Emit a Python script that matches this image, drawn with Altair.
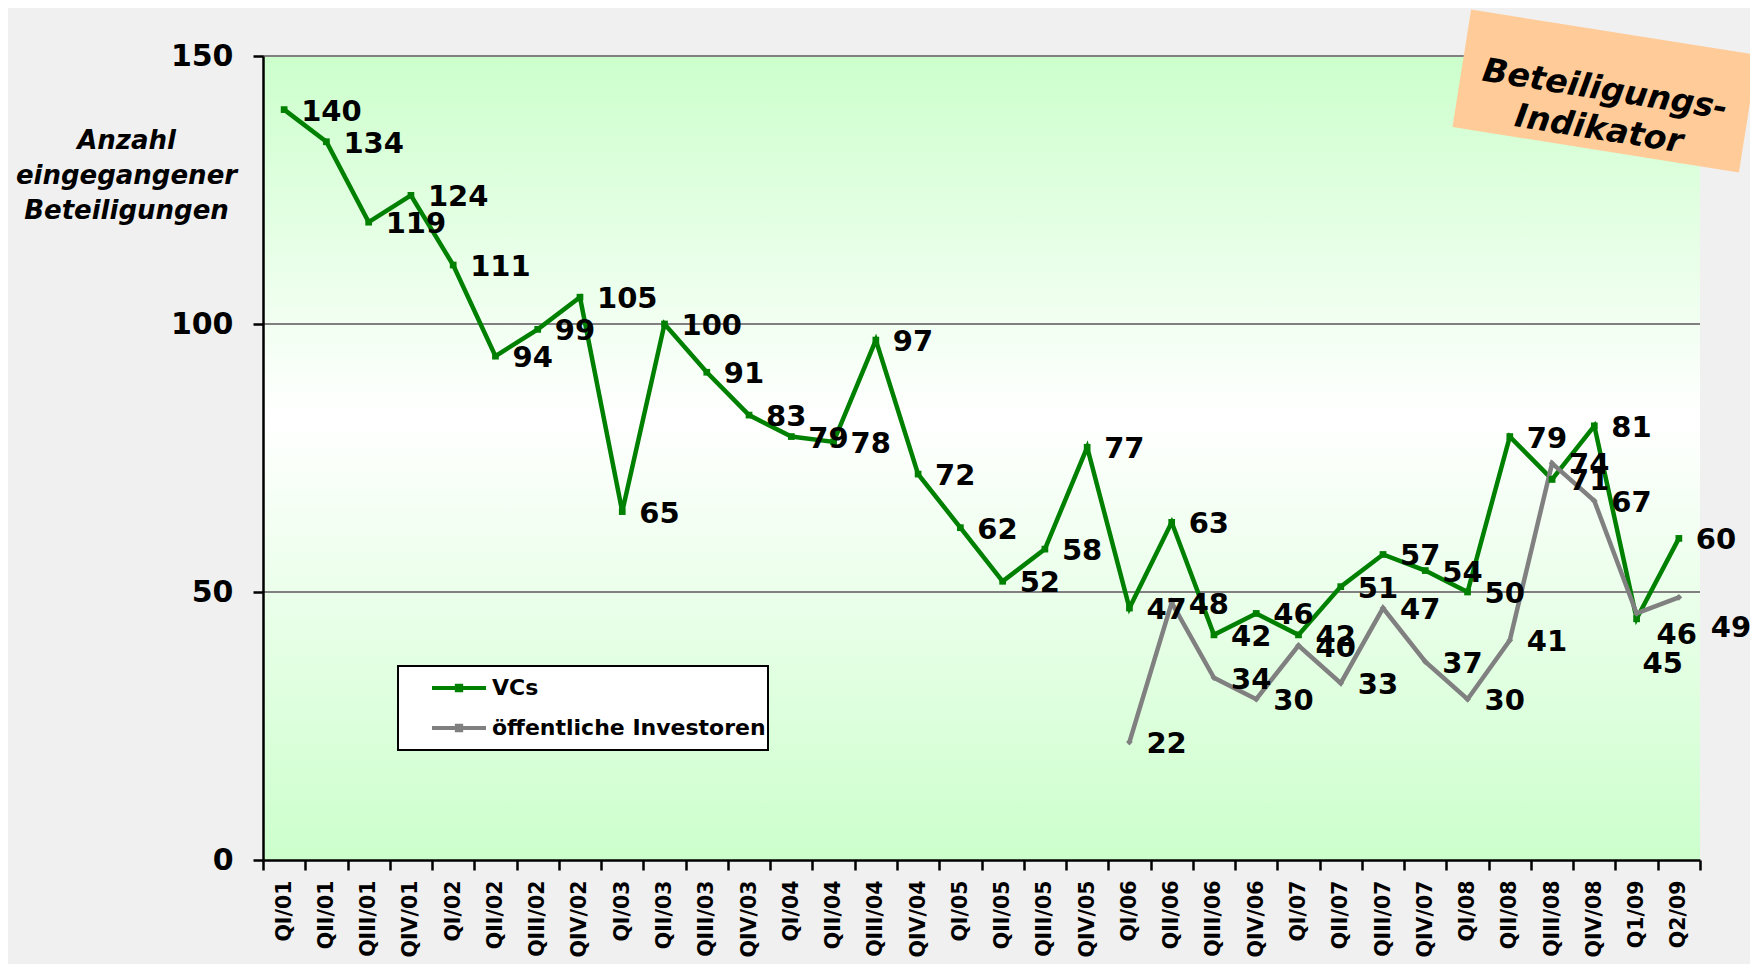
import altair as alt
import pandas as pd

quarters = ["QI/01", "QII/01", "QIII/01", "QIV/01", "QI/02", "QII/02", "QIII/02", "QIV/02",
            "QI/03", "QII/03", "QIII/03", "QIV/03", "QI/04", "QII/04", "QIII/04", "QIV/04",
            "QI/05", "QII/05", "QIII/05", "QIV/05", "QI/06", "QII/06", "QIII/06", "QIV/06",
            "QI/07", "QII/07", "QIII/07", "QIV/07", "QI/08", "QII/08", "QIII/08", "QIV/08",
            "Q1/09", "Q2/09"]
vcs = [140, 134, 119, 124, 111, 94, 99, 105, 65, 100, 91, 83, 79, 78, 97, 72,
       62, 52, 58, 77, 47, 63, 42, 46, 42, 51, 57, 54, 50, 79, 71, 81, 45, 60]
public_quarters = quarters[20:]
public = [22, 48, 34, 30, 40, 33, 47, 37, 30, 41, 74, 67, 46, 49]
series_names = ["VCs", "öffentliche Investoren"]
series_colors = ["#008000", "#808080"]
series_markers = ["square", "diamond"]
y_ticks = [0, 50, 100, 150]
grid_values = [50, 100, 150]
y_title = ["Anzahl", "eingegangener", "Beteiligungen"]
badge_lines = ["Beteiligungs-", "Indikator"]

W, H = 1437, 804
FONT = "DejaVu Sans"

df = pd.concat([
    pd.DataFrame({"quarter": quarters, "value": vcs, "series": series_names[0],
                  "idx": list(range(len(quarters)))}),
    pd.DataFrame({"quarter": public_quarters, "value": public, "series": series_names[1],
                  "idx": list(range(20, 20 + len(public_quarters)))}),
], ignore_index=True)

x_enc = alt.X(
    "quarter:N", sort=quarters,
    scale=alt.Scale(type="band", domain=quarters, paddingInner=0, paddingOuter=0),
    axis=alt.Axis(title=None, labelAngle=-90, labelFont=FONT, labelFontWeight="bold",
                  labelFontSize=20.5, labelColor="black", labelPadding=10, tickBand="extent",
                  tickSize=10, tickWidth=2.5, tickColor="black", domainColor="black",
                  domainWidth=2.5, grid=False, zindex=2, labelOverlap=False),
)
y_axis = alt.Axis(values=y_ticks, title=y_title, titleAngle=0, titleX=-137, titleY=84,
                  titleAlign="center", titleBaseline="middle", titleFont=FONT, titleFontSize=26,
                  titleFontWeight="bold", titleFontStyle="italic", titleLineHeight=35,
                  titleColor="black", labelFont=FONT, labelFontSize=30, labelFontWeight="bold",
                  labelColor="black", labelPadding=20, tickSize=10, tickWidth=2.5,
                  tickColor="black", domainColor="black", domainWidth=2.5, grid=False, zindex=2)
y_enc = alt.Y("value:Q", scale=alt.Scale(domain=[0, 150], nice=False, zero=True), axis=y_axis)

bg = alt.Chart(pd.DataFrame({"a": [0]})).mark_rect(
    fill=alt.Gradient(gradient="linear",
                      stops=[alt.GradientStop(color="#ccffcc", offset=0),
                             alt.GradientStop(color="#ffffff", offset=0.45),
                             alt.GradientStop(color="#ccffcc", offset=1)],
                      x1=0, y1=0, x2=0, y2=1)
).encode(x=alt.value(0), x2=alt.value(W), y=alt.value(0), y2=alt.value(H))

grid = alt.Chart(pd.DataFrame({"value": grid_values})).mark_rule(
    color="#808080", strokeWidth=2).encode(y=y_enc)

legend = alt.Legend(title=None, orient="none", legendX=135, legendY=610, fillColor="white",
                    strokeColor="black", padding=2,
                    symbolType="M-1,0H1M-0.08,-0.08H0.08V0.08H-0.08Z", symbolSize=2916,
                    symbolStrokeWidth=4, symbolOffset=30, labelFont=FONT, labelFontSize=22,
                    labelFontWeight="bold", labelColor="black", labelOffset=4, clipHeight=40,
                    rowPadding=0, labelLimit=600)

lines = alt.Chart(df).mark_line(strokeWidth=4.5).encode(
    x=x_enc, y=y_enc,
    color=alt.Color("series:N", scale=alt.Scale(domain=series_names, range=series_colors),
                    legend=legend),
    order=alt.Order("idx:Q"),
)

point_layers = [
    alt.Chart(df).transform_filter(alt.datum.series == name).mark_point(
        shape=marker, filled=True, size=45, opacity=1, color=col).encode(x=x_enc, y=y_enc)
    for name, col, marker in zip(series_names, series_colors, series_markers)
]

label_style = dict(align="left", baseline="middle", font=FONT, fontSize=29,
                   fontWeight="bold", color="black")
is_vc_q109 = (alt.datum.series == series_names[0]) & (alt.datum.quarter == "Q1/09")
is_pub_q109 = (alt.datum.series == series_names[1]) & (alt.datum.quarter == "Q1/09")
is_pub_q209 = (alt.datum.series == series_names[1]) & (alt.datum.quarter == "Q2/09")

labels = alt.Chart(df).transform_filter(
    ~(is_vc_q109 | is_pub_q109 | is_pub_q209)
).mark_text(dx=17, dy=2, **label_style).encode(x=x_enc, y=y_enc, text="value:Q")
label_vc_q109 = alt.Chart(df).transform_filter(is_vc_q109).mark_text(
    dx=6, dy=45, **label_style).encode(x=x_enc, y=y_enc, text="value:Q")
label_pub_q109 = alt.Chart(df).transform_filter(is_pub_q109).mark_text(
    dx=20, dy=22, **label_style).encode(x=x_enc, y=y_enc, text="value:Q")
label_pub_q209 = alt.Chart(df).transform_filter(is_pub_q209).mark_text(
    dx=32, dy=31, **label_style).encode(x=x_enc, y=y_enc, text="value:Q")

badge_df = pd.DataFrame({"label": ["\n".join(badge_lines)]})
badge_box = alt.Chart(badge_df).mark_point(
    shape="M-1,-0.41H1V0.41H-1Z", size=84100, angle=9, filled=True, fill="#ffcc99",
    opacity=1, strokeWidth=0).encode(x=alt.value(1342), y=alt.value(35))
badge_text = alt.Chart(badge_df).mark_text(
    angle=9, align="center", baseline="middle", font=FONT, fontSize=33, fontWeight="bold",
    fontStyle="italic", lineBreak="\n", lineHeight=40, color="black").encode(
    x=alt.value(1342), y=alt.value(34), text="label:N")

chart = alt.layer(
    bg, grid, lines, *point_layers, labels, label_vc_q109, label_pub_q109, label_pub_q209,
    badge_box, badge_text
).properties(
    width=W, height=H, background="#f0f0f0",
    padding={"left": 255, "top": 48, "right": 50, "bottom": 104},
    autosize=alt.AutoSizeParams(type="none"),
).configure_view(stroke=None).configure_legend(strokeWidth=2)

chart.save("out.html", embed_options={"renderer": "svg", "actions": False})
